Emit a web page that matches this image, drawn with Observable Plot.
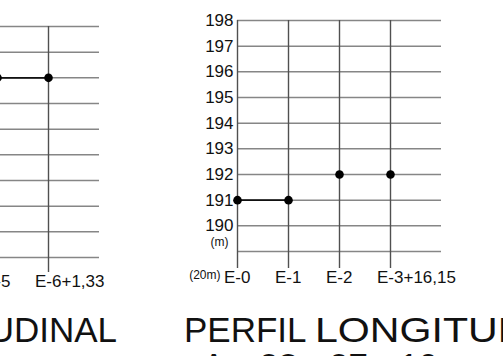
<!DOCTYPE html>
<html><head><meta charset="utf-8">
<script src="https://cdn.jsdelivr.net/npm/d3@7"></script>
<script src="https://cdn.jsdelivr.net/npm/@observablehq/plot@0.6"></script>
<style>
html,body{margin:0;padding:0;background:#fff;}
#wrap{position:relative;width:503px;height:356px;overflow:hidden;font-family:"Liberation Sans",Arial,sans-serif;background:#fff;}
.abs{position:absolute;top:0;}
.title{position:absolute;font-size:35px;line-height:35px;white-space:nowrap;color:#111;}
#t1 .w2{display:inline-block;transform:scaleX(1.175);transform-origin:0 50%;margin-left:0px;}
</style></head><body><div id="wrap"></div>
<script>
// Right profile
const rightStations = ["E-0", "E-1", "E-2", "E-3+16,15"];
const rightElev = [191, 191, 192, 192];
const rightProfile = ["E-0", "E-1"];
const yTickLabels = [190, 191, 192, 193, 194, 195, 196, 197, 198];
const gridLevels = [189, 190, 191, 192, 193, 194, 195, 196, 197, 198];
const unitY = "(m)";
const unitX = "(20m)";
// Left profile (cut off)
const leftStations = ["E-5", "E-6+1,33"];
const leftElev = [196, 196];
const leftProfile = ["E-5", "E-6+1,33"];
// Titles
const titleWords = ["PERFIL", "LONGITUDINAL"];
const subtitleText = "Av. 23 - 27 - 10";

const H_GRID = "#868686", V_GRID = "#505050", INK = "#111";
const wrap = document.getElementById("wrap");

function profile({stations, elev, prof, showY, marginLeft, marginRight, marginTop, marginBottom, tickSize}) {
  const idx = stations.map((_, i) => i);
  const pts = stations.map((s, i) => ({i, s, e: elev[i]}));
  const marks = [
    Plot.ruleY(gridLevels, {stroke: H_GRID, strokeWidth: 1.5}),
    Plot.ruleX(idx, {stroke: V_GRID, strokeWidth: 1.4}),
    // tick stubs below the frame
    Plot.axisX(idx, {tickFormat: () => "", tickSize, stroke: V_GRID, strokeWidth: 1.4, label: null}),
    // station labels: the "E-n" part is centred on the station line
    Plot.axisX(idx, {tickFormat: i => stations[i], tickSize: 0, tickPadding: tickSize + 2,
      fontSize: 17, fill: INK, textAnchor: "start", dx: -13.5, label: null}),
    Plot.line(pts.filter(d => prof.includes(d.s)), {x: "i", y: "e", stroke: INK, strokeWidth: 1.6}),
    Plot.dot(pts, {x: "i", y: "e", r: 4.3, fill: "#000", stroke: "none"})
  ];
  if (showY) {
    marks.push(
      Plot.axisY(yTickLabels, {tickSize: 0, tickPadding: 4, fontSize: 17, fill: INK, label: null}),
      Plot.text([unitY], {frameAnchor: "bottom-left", dx: -18, dy: -6, textAnchor: "middle", fontSize: 12, fill: INK}),
      Plot.text([unitX], {frameAnchor: "bottom-left", dx: -17, dy: 27, textAnchor: "end", fontSize: 12, fill: INK})
    );
  }
  const width = marginLeft + 51 * (stations.length) + marginRight;
  return Plot.plot({
    width, height: 356,
    marginLeft, marginRight, marginTop, marginBottom,
    x: {domain: [0, stations.length], axis: null},
    y: {domain: [189, 198], axis: null},
    style: {background: "transparent", fontFamily: "Liberation Sans, Arial, sans-serif", fontSize: "17px", overflow: "visible"},
    marks
  });
}

const left = profile({stations: leftStations, elev: leftElev, prof: leftProfile, showY: false,
  marginLeft: 60, marginRight: 38, marginTop: 26, marginBottom: 99, tickSize: 15});
left.classList.add("abs"); left.style.left = "-63px";
wrap.appendChild(left);

const right = profile({stations: rightStations, elev: rightElev, prof: rightProfile, showY: true,
  marginLeft: 87, marginRight: 62, marginTop: 20, marginBottom: 105, tickSize: 17});
right.classList.add("abs"); right.style.left = "150px";
wrap.appendChild(right);

function title(el) {
  el.className = "title";
  const a = document.createElement("span"); a.textContent = titleWords[0];
  const b = document.createElement("span"); b.className = "w2"; b.textContent = titleWords[1];
  el.append(a, document.createTextNode(" "), b);
  return el;
}
const t1 = title(document.createElement("div"));
t1.id = "t1";
t1.style.left = "184px"; t1.style.top = "312px";
wrap.appendChild(t1);

const t0 = title(document.createElement("div"));
t0.style.right = (503 - 117) + "px"; t0.style.top = "312px";
wrap.appendChild(t0);

const t2 = document.createElement("div");
t2.className = "title"; t2.textContent = subtitleText;
t2.style.left = "202px"; t2.style.top = "348px";
wrap.appendChild(t2);
</script>
</body></html>
